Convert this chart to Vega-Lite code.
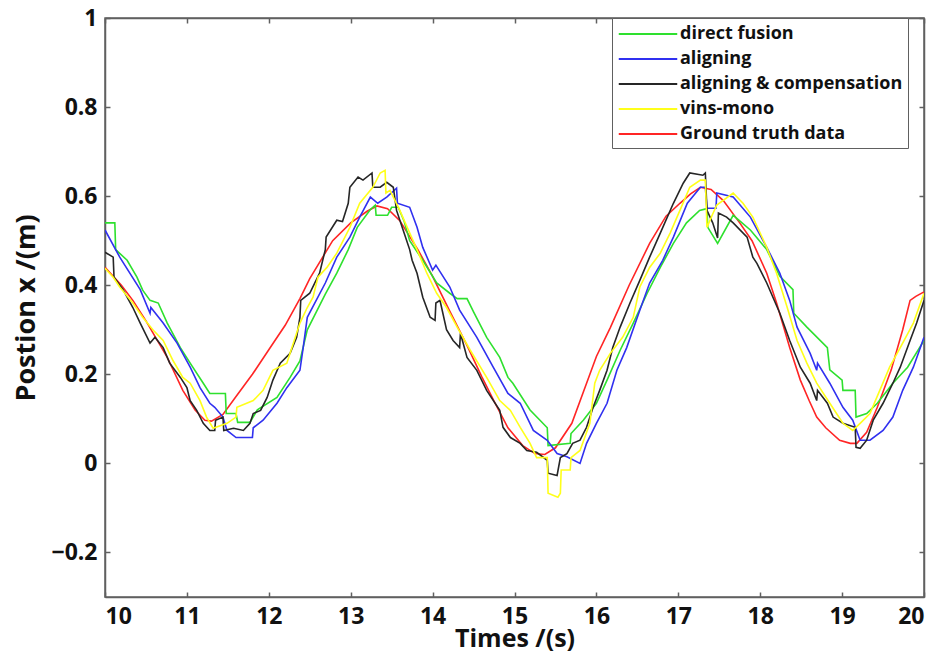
{
  "$schema": "https://vega.github.io/schema/vega-lite/v6.json",
  "width": 819,
  "height": 579,
  "autosize": {"type": "none"},
  "padding": {"left": 105, "top": 18, "right": 15, "bottom": 56},
  "background": "white",
  "config": {
    "font": "Open Sans",
    "view": {"stroke": "#606060", "strokeWidth": 1.5},
    "axis": {"grid": false, "domainColor": "#606060", "domainWidth": 1.5, "tickColor": "#606060", "tickWidth": 1.5, "tickSize": -5, "labelFont": "Open Sans", "labelFontWeight": "bold", "labelColor": "#111", "titleFont": "Open Sans", "titleFontWeight": "bold", "titleColor": "#111"},
    "legend": {"labelFont": "Open Sans", "labelFontWeight": "bold", "labelColor": "#111"}
  },
  "data": {"values": [
    {"s":"Ground truth data","t":10.0,"v":0.44},{"s":"Ground truth data","t":10.2,"v":0.40},{"s":"Ground truth data","t":10.34,"v":0.366},{"s":"Ground truth data","t":10.5,"v":0.32},{"s":"Ground truth data","t":10.76,"v":0.238},{"s":"Ground truth data","t":10.95,"v":0.164},{"s":"Ground truth data","t":11.1,"v":0.12},{"s":"Ground truth data","t":11.22,"v":0.097},{"s":"Ground truth data","t":11.3,"v":0.095},{"s":"Ground truth data","t":11.44,"v":0.11},{"s":"Ground truth data","t":11.6,"v":0.15},{"s":"Ground truth data","t":11.8,"v":0.20},{"s":"Ground truth data","t":12.0,"v":0.255},{"s":"Ground truth data","t":12.2,"v":0.31},{"s":"Ground truth data","t":12.38,"v":0.37},{"s":"Ground truth data","t":12.5,"v":0.415},{"s":"Ground truth data","t":12.78,"v":0.50},{"s":"Ground truth data","t":13.0,"v":0.54},{"s":"Ground truth data","t":13.2,"v":0.566},{"s":"Ground truth data","t":13.32,"v":0.578},{"s":"Ground truth data","t":13.45,"v":0.572},{"s":"Ground truth data","t":13.6,"v":0.545},{"s":"Ground truth data","t":13.82,"v":0.48},{"s":"Ground truth data","t":14.0,"v":0.42},{"s":"Ground truth data","t":14.2,"v":0.345},{"s":"Ground truth data","t":14.42,"v":0.265},{"s":"Ground truth data","t":14.6,"v":0.195},{"s":"Ground truth data","t":14.75,"v":0.14},{"s":"Ground truth data","t":14.92,"v":0.08},{"s":"Ground truth data","t":15.1,"v":0.04},{"s":"Ground truth data","t":15.25,"v":0.022},{"s":"Ground truth data","t":15.37,"v":0.02},{"s":"Ground truth data","t":15.5,"v":0.035},{"s":"Ground truth data","t":15.7,"v":0.09},{"s":"Ground truth data","t":15.88,"v":0.18},{"s":"Ground truth data","t":16.0,"v":0.24},{"s":"Ground truth data","t":16.17,"v":0.305},{"s":"Ground truth data","t":16.4,"v":0.40},{"s":"Ground truth data","t":16.65,"v":0.494},{"s":"Ground truth data","t":16.85,"v":0.555},{"s":"Ground truth data","t":17.02,"v":0.584},{"s":"Ground truth data","t":17.15,"v":0.605},{"s":"Ground truth data","t":17.27,"v":0.62},{"s":"Ground truth data","t":17.4,"v":0.615},{"s":"Ground truth data","t":17.55,"v":0.59},{"s":"Ground truth data","t":17.75,"v":0.54},{"s":"Ground truth data","t":17.9,"v":0.50},{"s":"Ground truth data","t":18.08,"v":0.427},{"s":"Ground truth data","t":18.2,"v":0.36},{"s":"Ground truth data","t":18.36,"v":0.26},{"s":"Ground truth data","t":18.49,"v":0.187},{"s":"Ground truth data","t":18.6,"v":0.14},{"s":"Ground truth data","t":18.69,"v":0.104},{"s":"Ground truth data","t":18.8,"v":0.08},{"s":"Ground truth data","t":18.97,"v":0.052},{"s":"Ground truth data","t":19.1,"v":0.045},{"s":"Ground truth data","t":19.18,"v":0.045},{"s":"Ground truth data","t":19.3,"v":0.07},{"s":"Ground truth data","t":19.43,"v":0.126},{"s":"Ground truth data","t":19.6,"v":0.21},{"s":"Ground truth data","t":19.74,"v":0.30},{"s":"Ground truth data","t":19.83,"v":0.366},{"s":"Ground truth data","t":19.9,"v":0.375},{"s":"Ground truth data","t":20.0,"v":0.385},

    {"s":"direct fusion","t":10.0,"v":0.54},{"s":"direct fusion","t":10.12,"v":0.54},{"s":"direct fusion","t":10.13,"v":0.48},{"s":"direct fusion","t":10.27,"v":0.456},{"s":"direct fusion","t":10.39,"v":0.418},{"s":"direct fusion","t":10.46,"v":0.389},{"s":"direct fusion","t":10.55,"v":0.366},{"s":"direct fusion","t":10.65,"v":0.36},{"s":"direct fusion","t":10.76,"v":0.315},{"s":"direct fusion","t":10.92,"v":0.26},{"s":"direct fusion","t":11.04,"v":0.225},{"s":"direct fusion","t":11.2,"v":0.18},{"s":"direct fusion","t":11.28,"v":0.157},{"s":"direct fusion","t":11.47,"v":0.157},{"s":"direct fusion","t":11.48,"v":0.112},{"s":"direct fusion","t":11.6,"v":0.112},{"s":"direct fusion","t":11.62,"v":0.092},{"s":"direct fusion","t":11.77,"v":0.092},{"s":"direct fusion","t":11.86,"v":0.12},{"s":"direct fusion","t":12.1,"v":0.148},{"s":"direct fusion","t":12.26,"v":0.193},{"s":"direct fusion","t":12.38,"v":0.23},{"s":"direct fusion","t":12.47,"v":0.30},{"s":"direct fusion","t":12.69,"v":0.38},{"s":"direct fusion","t":12.83,"v":0.427},{"s":"direct fusion","t":12.97,"v":0.48},{"s":"direct fusion","t":13.08,"v":0.53},{"s":"direct fusion","t":13.24,"v":0.57},{"s":"direct fusion","t":13.3,"v":0.58},{"s":"direct fusion","t":13.31,"v":0.557},{"s":"direct fusion","t":13.45,"v":0.557},{"s":"direct fusion","t":13.5,"v":0.575},{"s":"direct fusion","t":13.58,"v":0.575},{"s":"direct fusion","t":13.65,"v":0.545},{"s":"direct fusion","t":13.72,"v":0.50},{"s":"direct fusion","t":13.88,"v":0.456},{"s":"direct fusion","t":14.05,"v":0.405},{"s":"direct fusion","t":14.21,"v":0.382},{"s":"direct fusion","t":14.3,"v":0.37},{"s":"direct fusion","t":14.42,"v":0.37},{"s":"direct fusion","t":14.5,"v":0.34},{"s":"direct fusion","t":14.66,"v":0.283},{"s":"direct fusion","t":14.82,"v":0.238},{"s":"direct fusion","t":14.92,"v":0.193},{"s":"direct fusion","t":14.98,"v":0.18},{"s":"direct fusion","t":15.19,"v":0.12},{"s":"direct fusion","t":15.4,"v":0.08},{"s":"direct fusion","t":15.41,"v":0.04},{"s":"direct fusion","t":15.68,"v":0.045},{"s":"direct fusion","t":15.69,"v":0.067},{"s":"direct fusion","t":15.84,"v":0.097},{"s":"direct fusion","t":16.0,"v":0.135},{"s":"direct fusion","t":16.13,"v":0.187},{"s":"direct fusion","t":16.29,"v":0.254},{"s":"direct fusion","t":16.45,"v":0.315},{"s":"direct fusion","t":16.62,"v":0.382},{"s":"direct fusion","t":16.78,"v":0.44},{"s":"direct fusion","t":16.94,"v":0.494},{"s":"direct fusion","t":17.1,"v":0.54},{"s":"direct fusion","t":17.26,"v":0.568},{"s":"direct fusion","t":17.35,"v":0.572},{"s":"direct fusion","t":17.36,"v":0.53},{"s":"direct fusion","t":17.48,"v":0.494},{"s":"direct fusion","t":17.67,"v":0.557},{"s":"direct fusion","t":17.88,"v":0.524},{"s":"direct fusion","t":18.08,"v":0.48},{"s":"direct fusion","t":18.24,"v":0.42},{"s":"direct fusion","t":18.4,"v":0.39},{"s":"direct fusion","t":18.41,"v":0.337},{"s":"direct fusion","t":18.57,"v":0.306},{"s":"direct fusion","t":18.82,"v":0.26},{"s":"direct fusion","t":18.85,"v":0.21},{"s":"direct fusion","t":19.0,"v":0.187},{"s":"direct fusion","t":19.01,"v":0.164},{"s":"direct fusion","t":19.16,"v":0.164},{"s":"direct fusion","t":19.17,"v":0.104},{"s":"direct fusion","t":19.3,"v":0.112},{"s":"direct fusion","t":19.43,"v":0.135},{"s":"direct fusion","t":19.62,"v":0.18},{"s":"direct fusion","t":19.8,"v":0.216},{"s":"direct fusion","t":20.0,"v":0.276},

    {"s":"aligning","t":10.0,"v":0.524},{"s":"aligning","t":10.18,"v":0.463},{"s":"aligning","t":10.43,"v":0.39},{"s":"aligning","t":10.55,"v":0.337},{"s":"aligning","t":10.56,"v":0.35},{"s":"aligning","t":10.71,"v":0.315},{"s":"aligning","t":10.88,"v":0.27},{"s":"aligning","t":11.04,"v":0.216},{"s":"aligning","t":11.16,"v":0.17},{"s":"aligning","t":11.28,"v":0.135},{"s":"aligning","t":11.34,"v":0.126},{"s":"aligning","t":11.44,"v":0.104},{"s":"aligning","t":11.49,"v":0.074},{"s":"aligning","t":11.6,"v":0.058},{"s":"aligning","t":11.8,"v":0.058},{"s":"aligning","t":11.81,"v":0.08},{"s":"aligning","t":11.93,"v":0.097},{"s":"aligning","t":12.1,"v":0.135},{"s":"aligning","t":12.22,"v":0.17},{"s":"aligning","t":12.38,"v":0.209},{"s":"aligning","t":12.42,"v":0.26},{"s":"aligning","t":12.47,"v":0.328},{"s":"aligning","t":12.69,"v":0.405},{"s":"aligning","t":12.83,"v":0.463},{"s":"aligning","t":12.99,"v":0.508},{"s":"aligning","t":13.11,"v":0.553},{"s":"aligning","t":13.24,"v":0.598},{"s":"aligning","t":13.33,"v":0.584},{"s":"aligning","t":13.44,"v":0.598},{"s":"aligning","t":13.56,"v":0.618},{"s":"aligning","t":13.57,"v":0.584},{"s":"aligning","t":13.72,"v":0.575},{"s":"aligning","t":13.81,"v":0.53},{"s":"aligning","t":13.88,"v":0.485},{"s":"aligning","t":14.0,"v":0.434},{"s":"aligning","t":14.04,"v":0.445},{"s":"aligning","t":14.21,"v":0.396},{"s":"aligning","t":14.33,"v":0.344},{"s":"aligning","t":14.54,"v":0.283},{"s":"aligning","t":14.74,"v":0.216},{"s":"aligning","t":14.92,"v":0.157},{"s":"aligning","t":15.07,"v":0.135},{"s":"aligning","t":15.23,"v":0.074},{"s":"aligning","t":15.4,"v":0.052},{"s":"aligning","t":15.52,"v":0.022},{"s":"aligning","t":15.64,"v":0.015},{"s":"aligning","t":15.8,"v":0.0},{"s":"aligning","t":15.88,"v":0.045},{"s":"aligning","t":16.0,"v":0.09},{"s":"aligning","t":16.13,"v":0.135},{"s":"aligning","t":16.25,"v":0.209},{"s":"aligning","t":16.37,"v":0.26},{"s":"aligning","t":16.53,"v":0.344},{"s":"aligning","t":16.65,"v":0.405},{"s":"aligning","t":16.81,"v":0.456},{"s":"aligning","t":16.94,"v":0.508},{"s":"aligning","t":17.11,"v":0.584},{"s":"aligning","t":17.27,"v":0.62},{"s":"aligning","t":17.33,"v":0.62},{"s":"aligning","t":17.35,"v":0.573},{"s":"aligning","t":17.46,"v":0.573},{"s":"aligning","t":17.47,"v":0.607},{"s":"aligning","t":17.67,"v":0.598},{"s":"aligning","t":17.88,"v":0.553},{"s":"aligning","t":18.08,"v":0.485},{"s":"aligning","t":18.24,"v":0.427},{"s":"aligning","t":18.36,"v":0.366},{"s":"aligning","t":18.45,"v":0.306},{"s":"aligning","t":18.61,"v":0.247},{"s":"aligning","t":18.69,"v":0.209},{"s":"aligning","t":18.7,"v":0.225},{"s":"aligning","t":18.85,"v":0.18},{"s":"aligning","t":19.01,"v":0.126},{"s":"aligning","t":19.13,"v":0.097},{"s":"aligning","t":19.22,"v":0.052},{"s":"aligning","t":19.34,"v":0.052},{"s":"aligning","t":19.5,"v":0.074},{"s":"aligning","t":19.62,"v":0.104},{"s":"aligning","t":19.74,"v":0.164},{"s":"aligning","t":19.87,"v":0.216},{"s":"aligning","t":20.0,"v":0.283},

    {"s":"aligning & compensation","t":10.0,"v":0.474},{"s":"aligning & compensation","t":10.1,"v":0.463},{"s":"aligning & compensation","t":10.11,"v":0.418},{"s":"aligning & compensation","t":10.22,"v":0.39},{"s":"aligning & compensation","t":10.34,"v":0.35},{"s":"aligning & compensation","t":10.43,"v":0.315},{"s":"aligning & compensation","t":10.55,"v":0.27},{"s":"aligning & compensation","t":10.61,"v":0.283},{"s":"aligning & compensation","t":10.71,"v":0.26},{"s":"aligning & compensation","t":10.79,"v":0.225},{"s":"aligning & compensation","t":10.92,"v":0.193},{"s":"aligning & compensation","t":11.0,"v":0.17},{"s":"aligning & compensation","t":11.04,"v":0.141},{"s":"aligning & compensation","t":11.12,"v":0.119},{"s":"aligning & compensation","t":11.2,"v":0.09},{"s":"aligning & compensation","t":11.28,"v":0.074},{"s":"aligning & compensation","t":11.34,"v":0.074},{"s":"aligning & compensation","t":11.35,"v":0.097},{"s":"aligning & compensation","t":11.44,"v":0.104},{"s":"aligning & compensation","t":11.45,"v":0.074},{"s":"aligning & compensation","t":11.57,"v":0.079},{"s":"aligning & compensation","t":11.69,"v":0.074},{"s":"aligning & compensation","t":11.77,"v":0.09},{"s":"aligning & compensation","t":11.81,"v":0.112},{"s":"aligning & compensation","t":11.9,"v":0.119},{"s":"aligning & compensation","t":11.98,"v":0.148},{"s":"aligning & compensation","t":12.05,"v":0.187},{"s":"aligning & compensation","t":12.14,"v":0.225},{"s":"aligning & compensation","t":12.26,"v":0.247},{"s":"aligning & compensation","t":12.34,"v":0.283},{"s":"aligning & compensation","t":12.38,"v":0.328},{"s":"aligning & compensation","t":12.39,"v":0.366},{"s":"aligning & compensation","t":12.5,"v":0.382},{"s":"aligning & compensation","t":12.62,"v":0.427},{"s":"aligning & compensation","t":12.69,"v":0.48},{"s":"aligning & compensation","t":12.7,"v":0.508},{"s":"aligning & compensation","t":12.83,"v":0.546},{"s":"aligning & compensation","t":12.9,"v":0.543},{"s":"aligning & compensation","t":12.97,"v":0.584},{"s":"aligning & compensation","t":12.99,"v":0.62},{"s":"aligning & compensation","t":13.09,"v":0.643},{"s":"aligning & compensation","t":13.15,"v":0.636},{"s":"aligning & compensation","t":13.26,"v":0.652},{"s":"aligning & compensation","t":13.27,"v":0.62},{"s":"aligning & compensation","t":13.36,"v":0.62},{"s":"aligning & compensation","t":13.44,"v":0.631},{"s":"aligning & compensation","t":13.52,"v":0.62},{"s":"aligning & compensation","t":13.56,"v":0.568},{"s":"aligning & compensation","t":13.64,"v":0.524},{"s":"aligning & compensation","t":13.72,"v":0.48},{"s":"aligning & compensation","t":13.75,"v":0.456},{"s":"aligning & compensation","t":13.81,"v":0.427},{"s":"aligning & compensation","t":13.88,"v":0.373},{"s":"aligning & compensation","t":13.97,"v":0.328},{"s":"aligning & compensation","t":14.03,"v":0.321},{"s":"aligning & compensation","t":14.04,"v":0.36},{"s":"aligning & compensation","t":14.09,"v":0.366},{"s":"aligning & compensation","t":14.17,"v":0.30},{"s":"aligning & compensation","t":14.25,"v":0.276},{"s":"aligning & compensation","t":14.33,"v":0.26},{"s":"aligning & compensation","t":14.34,"v":0.292},{"s":"aligning & compensation","t":14.42,"v":0.238},{"s":"aligning & compensation","t":14.54,"v":0.209},{"s":"aligning & compensation","t":14.66,"v":0.164},{"s":"aligning & compensation","t":14.82,"v":0.119},{"s":"aligning & compensation","t":14.86,"v":0.081},{"s":"aligning & compensation","t":14.95,"v":0.058},{"s":"aligning & compensation","t":15.07,"v":0.045},{"s":"aligning & compensation","t":15.15,"v":0.029},{"s":"aligning & compensation","t":15.27,"v":0.025},{"s":"aligning & compensation","t":15.4,"v":0.007},{"s":"aligning & compensation","t":15.41,"v":-0.022},{"s":"aligning & compensation","t":15.52,"v":-0.027},{"s":"aligning & compensation","t":15.56,"v":0.013},{"s":"aligning & compensation","t":15.64,"v":0.022},{"s":"aligning & compensation","t":15.71,"v":0.045},{"s":"aligning & compensation","t":15.8,"v":0.052},{"s":"aligning & compensation","t":15.88,"v":0.081},{"s":"aligning & compensation","t":15.96,"v":0.126},{"s":"aligning & compensation","t":16.04,"v":0.164},{"s":"aligning & compensation","t":16.13,"v":0.209},{"s":"aligning & compensation","t":16.2,"v":0.26},{"s":"aligning & compensation","t":16.29,"v":0.306},{"s":"aligning & compensation","t":16.41,"v":0.36},{"s":"aligning & compensation","t":16.53,"v":0.411},{"s":"aligning & compensation","t":16.65,"v":0.463},{"s":"aligning & compensation","t":16.78,"v":0.517},{"s":"aligning & compensation","t":16.94,"v":0.584},{"s":"aligning & compensation","t":17.06,"v":0.629},{"s":"aligning & compensation","t":17.14,"v":0.652},{"s":"aligning & compensation","t":17.3,"v":0.647},{"s":"aligning & compensation","t":17.33,"v":0.652},{"s":"aligning & compensation","t":17.35,"v":0.568},{"s":"aligning & compensation","t":17.42,"v":0.54},{"s":"aligning & compensation","t":17.48,"v":0.506},{"s":"aligning & compensation","t":17.49,"v":0.562},{"s":"aligning & compensation","t":17.59,"v":0.553},{"s":"aligning & compensation","t":17.67,"v":0.54},{"s":"aligning & compensation","t":17.84,"v":0.508},{"s":"aligning & compensation","t":17.91,"v":0.463},{"s":"aligning & compensation","t":17.96,"v":0.449},{"s":"aligning & compensation","t":18.08,"v":0.405},{"s":"aligning & compensation","t":18.24,"v":0.337},{"s":"aligning & compensation","t":18.36,"v":0.276},{"s":"aligning & compensation","t":18.49,"v":0.216},{"s":"aligning & compensation","t":18.61,"v":0.18},{"s":"aligning & compensation","t":18.69,"v":0.141},{"s":"aligning & compensation","t":18.7,"v":0.164},{"s":"aligning & compensation","t":18.82,"v":0.135},{"s":"aligning & compensation","t":18.89,"v":0.104},{"s":"aligning & compensation","t":19.01,"v":0.09},{"s":"aligning & compensation","t":19.16,"v":0.081},{"s":"aligning & compensation","t":19.17,"v":0.036},{"s":"aligning & compensation","t":19.22,"v":0.034},{"s":"aligning & compensation","t":19.3,"v":0.052},{"s":"aligning & compensation","t":19.38,"v":0.097},{"s":"aligning & compensation","t":19.5,"v":0.135},{"s":"aligning & compensation","t":19.62,"v":0.18},{"s":"aligning & compensation","t":19.71,"v":0.216},{"s":"aligning & compensation","t":19.83,"v":0.276},{"s":"aligning & compensation","t":19.91,"v":0.315},{"s":"aligning & compensation","t":20.0,"v":0.366},

    {"s":"vins-mono","t":10.0,"v":0.438},{"s":"vins-mono","t":10.1,"v":0.418},{"s":"vins-mono","t":10.18,"v":0.396},{"s":"vins-mono","t":10.34,"v":0.36},{"s":"vins-mono","t":10.46,"v":0.328},{"s":"vins-mono","t":10.59,"v":0.299},{"s":"vins-mono","t":10.71,"v":0.276},{"s":"vins-mono","t":10.83,"v":0.231},{"s":"vins-mono","t":10.95,"v":0.193},{"s":"vins-mono","t":11.04,"v":0.18},{"s":"vins-mono","t":11.16,"v":0.141},{"s":"vins-mono","t":11.24,"v":0.104},{"s":"vins-mono","t":11.32,"v":0.079},{"s":"vins-mono","t":11.49,"v":0.09},{"s":"vins-mono","t":11.6,"v":0.104},{"s":"vins-mono","t":11.61,"v":0.126},{"s":"vins-mono","t":11.81,"v":0.141},{"s":"vins-mono","t":11.93,"v":0.164},{"s":"vins-mono","t":12.05,"v":0.209},{"s":"vins-mono","t":12.22,"v":0.225},{"s":"vins-mono","t":12.38,"v":0.315},{"s":"vins-mono","t":12.47,"v":0.35},{"s":"vins-mono","t":12.54,"v":0.373},{"s":"vins-mono","t":12.6,"v":0.418},{"s":"vins-mono","t":12.71,"v":0.44},{"s":"vins-mono","t":12.83,"v":0.472},{"s":"vins-mono","t":12.99,"v":0.53},{"s":"vins-mono","t":13.11,"v":0.584},{"s":"vins-mono","t":13.27,"v":0.62},{"s":"vins-mono","t":13.36,"v":0.652},{"s":"vins-mono","t":13.42,"v":0.658},{"s":"vins-mono","t":13.43,"v":0.607},{"s":"vins-mono","t":13.48,"v":0.613},{"s":"vins-mono","t":13.6,"v":0.568},{"s":"vins-mono","t":13.69,"v":0.53},{"s":"vins-mono","t":13.81,"v":0.48},{"s":"vins-mono","t":13.93,"v":0.427},{"s":"vins-mono","t":14.05,"v":0.382},{"s":"vins-mono","t":14.17,"v":0.35},{"s":"vins-mono","t":14.3,"v":0.306},{"s":"vins-mono","t":14.46,"v":0.254},{"s":"vins-mono","t":14.66,"v":0.193},{"s":"vins-mono","t":14.82,"v":0.141},{"s":"vins-mono","t":14.95,"v":0.119},{"s":"vins-mono","t":15.07,"v":0.081},{"s":"vins-mono","t":15.19,"v":0.045},{"s":"vins-mono","t":15.27,"v":0.013},{"s":"vins-mono","t":15.4,"v":0.013},{"s":"vins-mono","t":15.41,"v":-0.067},{"s":"vins-mono","t":15.53,"v":-0.076},{"s":"vins-mono","t":15.56,"v":-0.067},{"s":"vins-mono","t":15.57,"v":-0.015},{"s":"vins-mono","t":15.68,"v":-0.015},{"s":"vins-mono","t":15.69,"v":0.013},{"s":"vins-mono","t":15.8,"v":0.029},{"s":"vins-mono","t":15.92,"v":0.09},{"s":"vins-mono","t":15.98,"v":0.18},{"s":"vins-mono","t":16.04,"v":0.209},{"s":"vins-mono","t":16.17,"v":0.247},{"s":"vins-mono","t":16.32,"v":0.283},{"s":"vins-mono","t":16.45,"v":0.328},{"s":"vins-mono","t":16.53,"v":0.396},{"s":"vins-mono","t":16.65,"v":0.44},{"s":"vins-mono","t":16.78,"v":0.472},{"s":"vins-mono","t":16.9,"v":0.517},{"s":"vins-mono","t":17.02,"v":0.568},{"s":"vins-mono","t":17.14,"v":0.62},{"s":"vins-mono","t":17.27,"v":0.636},{"s":"vins-mono","t":17.33,"v":0.636},{"s":"vins-mono","t":17.35,"v":0.53},{"s":"vins-mono","t":17.42,"v":0.56},{"s":"vins-mono","t":17.47,"v":0.58},{"s":"vins-mono","t":17.67,"v":0.607},{"s":"vins-mono","t":17.79,"v":0.584},{"s":"vins-mono","t":17.91,"v":0.553},{"s":"vins-mono","t":18.08,"v":0.485},{"s":"vins-mono","t":18.2,"v":0.427},{"s":"vins-mono","t":18.33,"v":0.35},{"s":"vins-mono","t":18.45,"v":0.276},{"s":"vins-mono","t":18.57,"v":0.225},{"s":"vins-mono","t":18.69,"v":0.18},{"s":"vins-mono","t":18.85,"v":0.135},{"s":"vins-mono","t":19.01,"v":0.09},{"s":"vins-mono","t":19.13,"v":0.074},{"s":"vins-mono","t":19.22,"v":0.09},{"s":"vins-mono","t":19.34,"v":0.112},{"s":"vins-mono","t":19.46,"v":0.164},{"s":"vins-mono","t":19.58,"v":0.216},{"s":"vins-mono","t":19.71,"v":0.26},{"s":"vins-mono","t":19.87,"v":0.315},{"s":"vins-mono","t":20.0,"v":0.382}
  ]},
  "layer": [
    {
      "mark": {"type": "line", "strokeWidth": 1.6, "clip": true},
      "encoding": {
        "x": {"field": "t", "type": "quantitative", "scale": {"domain": [10, 20], "nice": false, "zero": false},
              "axis": {"orient": "bottom", "title": "Times /(s)", "values": [10,11,12,13,14,15,16,17,18,19,20], "labelFontSize": 23, "labelPadding": 13, "titleFontSize": 25, "titlePadding": -2}},
        "y": {"field": "v", "type": "quantitative", "scale": {"domain": [-0.3, 1], "nice": false, "zero": false},
              "axis": {"orient": "left", "title": "Postion x /(m)", "values": [-0.2, 0, 0.2, 0.4, 0.6, 0.8, 1], "labelExpr": "replace(format(datum.value, '.1~f'), '-', '\u2212')", "labelFontSize": 23, "labelPadding": 13, "titleFontSize": 27, "titlePadding": 10}},
        "color": {"field": "s", "type": "nominal",
          "scale": {"domain": ["direct fusion", "aligning", "aligning & compensation", "vins-mono", "Ground truth data"],
                    "range": ["#2ee02e", "#3030f0", "#262626", "#ffff1a", "#ff2525"]},
          "legend": {"title": null, "orient": "none", "legendX": 507, "legendY": 0, "direction": "vertical",
                     "symbolType": "M-3,0H3", "symbolSize": 380, "symbolOffset": 20, "symbolStrokeWidth": 2, "labelFontSize": 18, "labelOffset": 21, "labelLimit": 400,
                     "rowPadding": 5, "padding": 5, "strokeColor": "#606060", "fillColor": "white"}},
        "order": {"value": 0}
      }
    },
    {
      "mark": {"type": "line", "strokeOpacity": 0},
      "encoding": {
        "x": {"field": "t", "type": "quantitative", "scale": {"domain": [10, 20], "nice": false, "zero": false},
              "axis": {"orient": "top", "title": null, "labels": false, "values": [10,11,12,13,14,15,16,17,18,19,20]}},
        "y": {"field": "v", "type": "quantitative", "scale": {"domain": [-0.3, 1], "nice": false, "zero": false},
              "axis": {"orient": "right", "title": null, "labels": false, "values": [-0.2, 0, 0.2, 0.4, 0.6, 0.8, 1]}},
        "detail": {"field": "s"}
      }
    }
  ],
  "resolve": {"axis": {"x": "independent", "y": "independent"}}
}
